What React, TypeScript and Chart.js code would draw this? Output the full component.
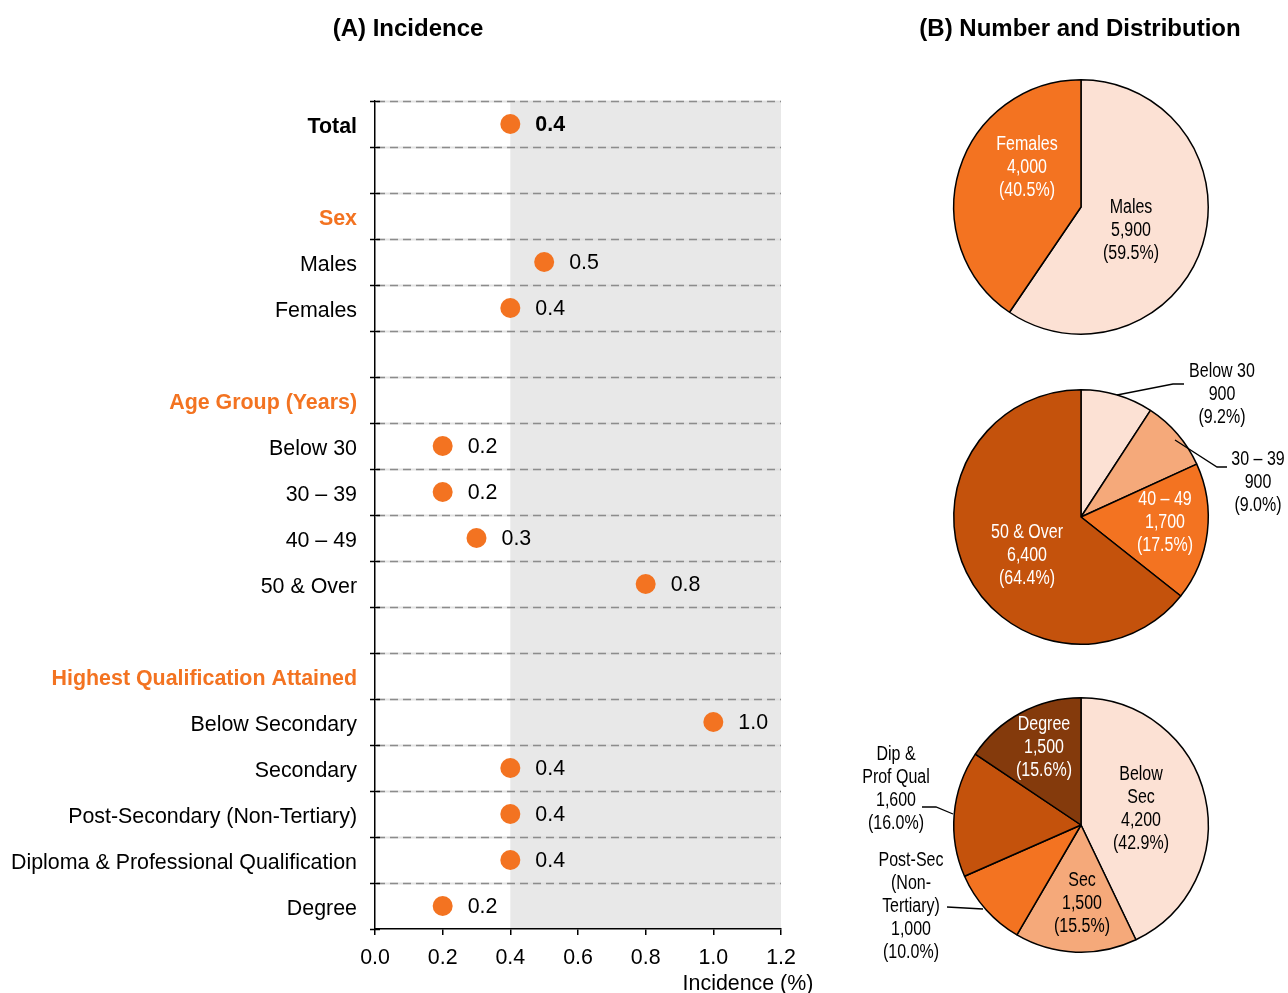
import React, { useEffect, useRef } from 'react';
import { Chart, registerables } from 'chart.js';

Chart.register(...registerables);

// ---------- Panel A data ----------
const rowLabels = [
  'Total', '', 'Sex', 'Males', 'Females', '',
  'Age Group (Years)', 'Below 30', '30 – 39', '40 – 49', '50 & Over', '',
  'Highest Qualification Attained', 'Below Secondary', 'Secondary',
  'Post-Secondary (Non-Tertiary)', 'Diploma & Professional Qualification', 'Degree',
];
const rowKinds = [
  'total', 'blank', 'header', 'item', 'item', 'blank',
  'header', 'item', 'item', 'item', 'item', 'blank',
  'header', 'item', 'item', 'item', 'item', 'item',
];
const incidence: (number | null)[] = [
  0.4, null, null, 0.5, 0.4, null,
  null, 0.2, 0.2, 0.3, 0.8, null,
  null, 1.0, 0.4, 0.4, 0.4, 0.2,
];
const xTickValues = [0, 0.2, 0.4, 0.6, 0.8, 1.0, 1.2];
const shadeFrom = 0.4;

// ---------- Panel B data ----------
const sexLabels = [['Males'], ['Females']];
const sexCounts = [5900, 4000];
const sexShares = [59.5, 40.5];

const ageLabels = [['Below 30'], ['30 – 39'], ['40 – 49'], ['50 & Over']];
const ageCounts = [900, 900, 1700, 6400];
const ageShares = [9.2, 9.0, 17.5, 64.4];

const qualLabels = [['Below', 'Sec'], ['Sec'], ['Post-Sec', '(Non-', 'Tertiary)'], ['Dip &', 'Prof Qual'], ['Degree']];
const qualCounts = [4200, 1500, 1000, 1600, 1500];
const qualShares = [42.9, 15.5, 10.0, 16.0, 15.6];

// ---------- styles ----------
const ORANGE = '#F37321';
const C_LIGHTEST = '#FCE1D4';
const C_LIGHT = '#F5A97A';
const C_MID = ORANGE;
const C_DARK = '#C4520C';
const C_DARKEST = '#843A0C';
const FONT = "'Liberation Sans', Arial, sans-serif";
const LABEL_SIZE = 21.4;

const W = 1288;
const H = 993;
const PLOT_LEFT = 375;
const PLOT_RIGHT = 781;
const PLOT_TOP = 101;
const PLOT_BOTTOM = 929;

type PieSpec = {
  labels: string[][];
  counts: number[];
  shares: number[];
  colors: string[];
  textColors: string[];
  offsets: number[][];
  leaders: (number[][] | null)[];
  top: number;
  centerY: number;
};

const pies: PieSpec[] = [
  {
    labels: sexLabels, counts: sexCounts, shares: sexShares,
    colors: [C_LIGHTEST, C_MID], textColors: ['#000', '#fff'],
    offsets: [[50, 24], [-54, -39]],
    leaders: [null, null],
    top: 50, centerY: 207,
  },
  {
    labels: ageLabels, counts: ageCounts, shares: ageShares,
    colors: [C_LIGHTEST, C_LIGHT, C_MID, C_DARK], textColors: ['#000', '#000', '#fff', '#fff'],
    offsets: [[141, -122], [177, -34], [84, 6], [-54, 39]],
    leaders: [
      [[36, -122], [92, -133], [103, -133]],
      [[94, -77], [136, -50], [146, -50]],
      null, null,
    ],
    top: 360, centerY: 517,
  },
  {
    labels: qualLabels, counts: qualCounts, shares: qualShares,
    colors: [C_LIGHTEST, C_LIGHT, C_MID, C_DARK, C_DARKEST],
    textColors: ['#000', '#000', '#000', '#000', '#fff'],
    offsets: [[60, -15.5], [1, 79], [-170, 82], [-185, -35.5], [-37, -77]],
    leaders: [
      null, null,
      [[-134, 82], [-98, 84]],
      [[-159, -18], [-145, -18], [-128, -11]],
      null,
    ],
    top: 670, centerY: 825,
  },
];

const PIE_LEFT = 840;
const PIE_W = 448;
const PIE_H = 310;
const PIE_CX = 1081;
const PIE_SIDE = 256;
const NARROW_SCALE = 0.82;

function IncidenceChart() {
  const ref = useRef<HTMLCanvasElement>(null);
  useEffect(() => {
    const canvas = ref.current!;
    const points = incidence
      .map((v, i) => (v === null ? null : { x: v, y: i + 0.5 }))
      .filter((p) => p !== null) as { x: number; y: number }[];

    const deco = {
      id: 'deco',
      beforeDraw(chart: any) {
        const { ctx, chartArea } = chart;
        const xs = chart.scales.x;
        ctx.save();
        ctx.fillStyle = '#E8E8E8';
        const x0 = xs.getPixelForValue(shadeFrom);
        ctx.fillRect(x0, chartArea.top, chartArea.right - x0, chartArea.bottom - chartArea.top);
        ctx.restore();
      },
      beforeDatasetsDraw(chart: any) {
        const { ctx, chartArea } = chart;
        const ys = chart.scales.y;
        ctx.save();
        for (let k = 0; k < rowLabels.length; k++) {
          const y = Math.round(ys.getPixelForValue(k)) + 0.5;
          ctx.setLineDash([]);
          ctx.strokeStyle = 'rgba(220,220,220,0.8)';
          ctx.lineWidth = 2;
          ctx.beginPath();
          ctx.moveTo(chartArea.left, y);
          ctx.lineTo(chartArea.right, y);
          ctx.stroke();
          ctx.setLineDash([8, 5]);
          ctx.strokeStyle = '#8C8C8C';
          ctx.lineWidth = 1.6;
          ctx.beginPath();
          ctx.moveTo(chartArea.left + 2, y);
          ctx.lineTo(chartArea.right, y);
          ctx.stroke();
        }
        ctx.setLineDash([]);
        ctx.strokeStyle = '#000';
        ctx.lineWidth = 1.5;
        for (let k = 0; k <= rowLabels.length; k++) {
          const y = Math.round(ys.getPixelForValue(k)) + 0.5;
          ctx.beginPath();
          ctx.moveTo(chartArea.left - 5, y);
          ctx.lineTo(chartArea.left + 5, y);
          ctx.stroke();
        }
        ctx.restore();
      },
      afterDatasetsDraw(chart: any) {
        const { ctx } = chart;
        const xs = chart.scales.x;
        const ys = chart.scales.y;
        ctx.save();
        ctx.textBaseline = 'middle';
        ctx.textAlign = 'left';
        ctx.fillStyle = '#000';
        incidence.forEach((v, i) => {
          if (v === null) return;
          const bold = rowKinds[i] === 'total';
          ctx.font = `${bold ? 'bold ' : ''}${LABEL_SIZE}px ${FONT}`;
          ctx.fillText(v.toFixed(1), xs.getPixelForValue(v) + 25, ys.getPixelForValue(i + 0.5) + 1.5);
        });
        ctx.font = `${LABEL_SIZE}px ${FONT}`;
        ctx.textAlign = 'center';
        ctx.fillText('Incidence (%)', 748, 984);
        ctx.font = `bold 24px ${FONT}`;
        ctx.fillText('(A) Incidence', 408, 29);
        ctx.fillText('(B) Number and Distribution', 1080, 29);
        ctx.restore();
      },
    };

    const chart = new Chart(canvas, {
      type: 'scatter',
      data: {
        datasets: [
          {
            data: points,
            pointRadius: 10,
            pointHoverRadius: 10,
            pointBackgroundColor: ORANGE,
            pointBorderWidth: 0,
            pointBorderColor: ORANGE,
          },
        ],
      },
      options: {
        animation: false,
        responsive: false,
        events: [],
        layout: { padding: { top: PLOT_TOP, right: W - PLOT_RIGHT, left: 0, bottom: 0 } },
        plugins: { legend: { display: false }, tooltip: { enabled: false } },
        scales: {
          x: {
            type: 'linear',
            min: 0,
            max: 1.2,
            afterBuildTicks: (s: any) => {
              s.ticks = xTickValues.map((v) => ({ value: v }));
            },
            afterFit: (s: any) => {
              s.height = H - PLOT_BOTTOM;
            },
            ticks: {
              callback: (v: any) => Number(v).toFixed(1),
              font: { size: LABEL_SIZE, family: FONT },
              color: '#000',
              padding: 10,
              maxRotation: 0,
              autoSkip: false,
            },
            grid: { drawOnChartArea: false, drawTicks: true, tickLength: 6, color: '#000', lineWidth: 1.5 },
            border: { color: '#000', width: 1.5 },
          },
          y: {
            type: 'linear',
            min: 0,
            max: rowLabels.length,
            reverse: true,
            afterBuildTicks: (s: any) => {
              s.ticks = rowLabels.map((_, i) => ({ value: i + 0.5 }));
            },
            afterFit: (s: any) => {
              s.width = PLOT_LEFT;
            },
            ticks: {
              autoSkip: false,
              labelOffset: 3,
              callback: (_v: any, i: number) => rowLabels[i],
              font: (c: any) => ({
                size: LABEL_SIZE,
                family: FONT,
                weight: rowKinds[c.index] === 'item' ? 'normal' : 'bold',
              }),
              color: (c: any) => (rowKinds[c.index] === 'header' ? ORANGE : '#000'),
              padding: 18,
            },
            grid: { display: false, drawTicks: false },
            border: { color: '#000', width: 1.5 },
          },
        },
      } as any,
      plugins: [deco],
    });
    return () => chart.destroy();
  }, []);
  return (
    <canvas
      ref={ref}
      width={W}
      height={H}
      style={{ position: 'absolute', left: 0, top: 0, width: W, height: H, display: 'block' }}
    />
  );
}

function PieChart({ spec }: { spec: PieSpec }) {
  const ref = useRef<HTMLCanvasElement>(null);
  useEffect(() => {
    const canvas = ref.current!;
    const cyLocal = spec.centerY - spec.top;
    const cxLocal = PIE_CX - PIE_LEFT;
    const labelPlugin = {
      id: 'pieLabels',
      afterDatasetsDraw(chart: any) {
        const { ctx } = chart;
        const arc = chart.getDatasetMeta(0).data[0];
        const cx = arc.x;
        const cy = arc.y;
        ctx.save();
        ctx.font = `19.5px ${FONT}`;
        ctx.textAlign = 'center';
        ctx.textBaseline = 'middle';
        spec.labels.forEach((nameLines, i) => {
          const lines = [
            ...nameLines,
            spec.counts[i].toLocaleString('en-US'),
            `(${spec.shares[i].toFixed(1)}%)`,
          ];
          const [dx, dy] = spec.offsets[i];
          ctx.fillStyle = spec.textColors[i];
          lines.forEach((t, k) => {
            const tx = cx + dx;
            const ty = cy + dy + (k - (lines.length - 1) / 2) * 23;
            ctx.save();
            ctx.translate(tx, ty);
            ctx.scale(NARROW_SCALE, 1);
            ctx.fillText(t, 0, 0);
            ctx.restore();
          });
          const leader = spec.leaders[i];
          if (leader) {
            ctx.strokeStyle = '#000';
            ctx.lineWidth = 1.3;
            ctx.beginPath();
            leader.forEach(([lx, ly], k) => {
              if (k === 0) ctx.moveTo(cx + lx, cy + ly);
              else ctx.lineTo(cx + lx, cy + ly);
            });
            ctx.stroke();
          }
        });
        ctx.restore();
      },
    };
    const chart = new Chart(canvas, {
      type: 'pie',
      data: {
        labels: spec.labels.map((l) => l.join(' ')),
        datasets: [
          {
            data: spec.shares,
            backgroundColor: spec.colors,
            borderColor: '#000',
            borderWidth: 1.5,
            hoverOffset: 0,
          },
        ],
      },
      options: {
        animation: false,
        responsive: false,
        events: [],
        layout: {
          padding: {
            left: cxLocal - PIE_SIDE / 2,
            right: PIE_W - cxLocal - PIE_SIDE / 2,
            top: cyLocal - PIE_SIDE / 2,
            bottom: PIE_H - cyLocal - PIE_SIDE / 2,
          },
        },
        plugins: { legend: { display: false }, tooltip: { enabled: false } },
      } as any,
      plugins: [labelPlugin],
    });
    return () => chart.destroy();
  }, [spec]);
  return (
    <canvas
      ref={ref}
      width={PIE_W}
      height={PIE_H}
      style={{ position: 'absolute', left: PIE_LEFT, top: spec.top, width: PIE_W, height: PIE_H, display: 'block' }}
    />
  );
}

export default function App() {
  return (
    <div
      style={{
        position: 'absolute',
        left: 0,
        top: 0,
        width: W,
        height: H,
        overflow: 'hidden',
        background: '#fff',
      }}
    >
      <IncidenceChart />
      {pies.map((p, i) => (
        <PieChart key={i} spec={p} />
      ))}
    </div>
  );
}
